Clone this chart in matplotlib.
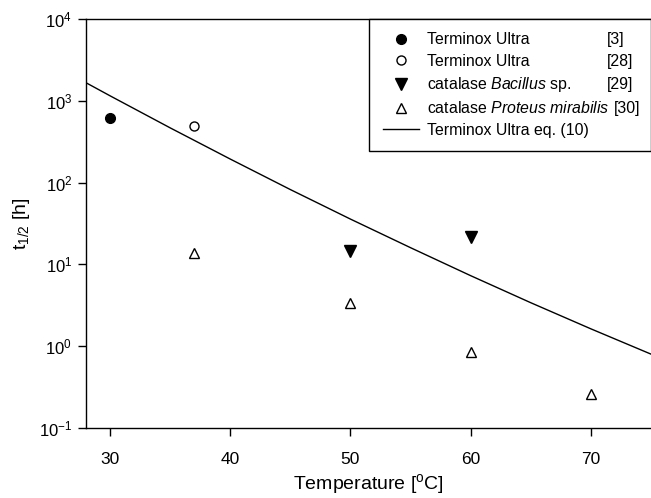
import matplotlib
matplotlib.use("Agg")
import matplotlib.pyplot as plt
from matplotlib.ticker import NullLocator

plt.rcParams.update({
    'font.family': 'Liberation Sans',
    'font.size': 12,
    'mathtext.fontset': 'custom',
    'mathtext.rm': 'Liberation Sans',
    'mathtext.it': 'Liberation Sans:italic',
    'mathtext.bf': 'Liberation Sans:bold',
})

# data
temp_terminox_3 = [30]
t_terminox_3 = [620]

temp_terminox_28 = [37]
t_terminox_28 = [490]

temp_bacillus = [50, 60]
t_bacillus = [14.6, 21.4]

temp_proteus = [37, 50, 60, 70]
t_proteus = [13.9, 3.35, 0.86, 0.26]

temp_eq = [28, 30, 35, 40, 45, 50, 55, 60, 65, 70, 75]
t_eq = [1663, 1151, 467, 194, 82.2, 35.8, 16.0, 7.28, 3.40, 1.63, 0.80]

labels = [
    "Terminox Ultra",
    "Terminox Ultra",
    "catalase $\\mathit{Bacillus}$ sp.",
    "catalase $\\mathit{Proteus\\ mirabilis}$",
    "Terminox Ultra eq. (10)",
]
refs = ["[3]", "[28]", "[29]", "[30]"]

fig = plt.figure(figsize=(6.51, 4.98), dpi=100)
ax = fig.add_axes([86 / 651, 1 - 428 / 498, 1 - 86 / 651, (428 - 19) / 498])

ms = 7
h1, = ax.plot(temp_terminox_3, t_terminox_3, 'o', color='black', ms=ms, linestyle='none')
h2, = ax.plot(temp_terminox_28, t_terminox_28, 'o', mfc='white', mec='black', mew=1, ms=ms - 0.5, linestyle='none')
h3, = ax.plot(temp_bacillus, t_bacillus, 'v', color='black', ms=ms + 1, linestyle='none')
h4, = ax.plot(temp_proteus, t_proteus, '^', mfc='white', mec='black', mew=1, ms=ms + 0.5, linestyle='none')
h5, = ax.plot(temp_eq, t_eq, '-', color='black', lw=1)

ax.set_yscale('log')
ax.set_xlim(28, 75)
ax.set_ylim(1e-1, 1e4)
ax.set_xticks([30, 40, 50, 60, 70])
ax.yaxis.set_minor_locator(NullLocator())
ax.xaxis.set_minor_locator(NullLocator())
ax.spines['right'].set_visible(False)
for s in ax.spines.values():
    s.set_linewidth(1)
ax.tick_params(direction='out', length=6, width=1, labelsize=12.5, pad=11)
ax.tick_params(axis='y', pad=4, labelsize=12)

ax.set_xlabel("Temperature [$^\\mathrm{o}$C]", fontsize=14, labelpad=4)
ax.set_ylabel("t$_{1/2}$ [h]", fontsize=14, labelpad=5)

leg = ax.legend([h1, h2, h3, h4, h5], labels, loc='upper left',
                bbox_to_anchor=(0.501, 0.0, 0.499, 1.0), mode='expand',
                borderaxespad=0, fancybox=False, framealpha=1,
                edgecolor='black', fontsize=11.4, handlelength=2.3,
                handletextpad=0.5, labelspacing=0.4, borderpad=0.85,
                numpoints=1)
leg.get_frame().set_linewidth(1)

fig.canvas.draw()
inv = ax.transAxes.inverted()
for txt, ref in zip(leg.get_texts()[:4], refs):
    bb = txt.get_window_extent()
    yc = inv.transform((0, (bb.y0 + bb.y1) / 2))[1]
    xl = max(607, bb.x1 + 4)
    ax.text(inv.transform((xl, 0))[0], yc, ref, transform=ax.transAxes,
            va='center', ha='left', fontsize=11.4, zorder=10)

fig.savefig("out.png", dpi=100)
